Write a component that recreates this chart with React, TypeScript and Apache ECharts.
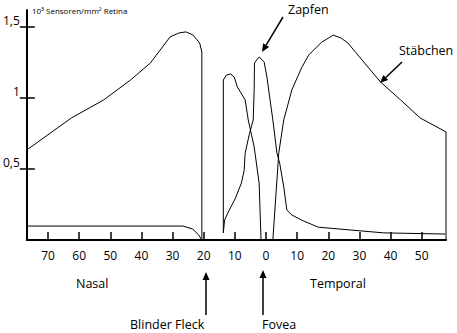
import React, { useEffect, useRef } from "react";
import * as echarts from "echarts";

// x: eccentricity (negative = nasal, positive = temporal), y: 10^5 sensors / mm^2
const xTickValues = [-70, -60, -50, -40, -30, -20, -10, 0, 10, 20, 30, 40, 50];
const yTickValues = [0.5, 1, 1.5];
const yTickLabels = ["0,5", "1", "1,5"];

const rodsX = [
  -76.8, -62.5, -52.1, -43.5, -37.1, -30.8, -27.9, -25.7, -23.5, -21.3, -20.6, -20.6,
  -17,
  -13.7, -13.7, -12.7, -11.4, -10.2, -9.2, -6.7, -5.7, -3.8, -2.2, -1.6,
  0,
  2.2, 4.1, 5.7, 8.3, 11.4, 13.7, 17.8, 21.6, 24.1, 26.3, 32.7, 36.8, 43.2, 49.5, 57.8, 57.8,
];
const rodsY: (number | string)[] = [
  0.633, 0.858, 0.985, 1.125, 1.245, 1.428, 1.456, 1.463, 1.442, 1.385, 1.322, 0,
  "-",
  0.05, 1.125, 1.16, 1.167, 1.146, 1.076, 0.985, 0.844, 0.654, 0.4, 0,
  "-",
  0, 0.612, 0.844, 1.055, 1.21, 1.3, 1.39, 1.44, 1.42, 1.385, 1.217, 1.11, 0.985, 0.858, 0.76, 0,
];

const conesX = [
  -76.8, -26.7, -23.5, -21.6, -20.6,
  -17,
  -13.7, -13.3, -12.1, -9.8, -7.9, -7.0, -6.7, -5.4, -4.1, -3.8, -3.7, -2.2, -0.6, 0.3, 1.3,
  2.2, 3.5, 4.4, 5.7, 6.7, 8.3, 11.4, 16.8, 27.3, 37.8, 57.5,
];
const conesY: (number | string)[] = [
  0.098, 0.098, 0.077, 0.035, 0,
  "-",
  0.05, 0.14, 0.197, 0.295, 0.4, 0.49, 0.61, 0.74, 0.844, 1.055, 1.245, 1.287, 1.252, 1.146, 0.985,
  0.844, 0.612, 0.54, 0.373, 0.21, 0.176, 0.14, 0.09, 0.07, 0.05, 0.042,
];

const FONT = "Open Sans";

function arrow(x1: number, y1: number, x2: number, y2: number) {
  const dx = x2 - x1, dy = y2 - y1;
  const len = Math.hypot(dx, dy);
  const ux = dx / len, uy = dy / len;
  const h = 8, w = 3.5;
  const bx = x2 - ux * h, by = y2 - uy * h;
  return [
    { type: "line", shape: { x1, y1, x2: bx, y2: by }, style: { stroke: "#000", lineWidth: 1.5 } },
    {
      type: "polygon",
      shape: { points: [[x2, y2], [bx - uy * w, by + ux * w], [bx + uy * w, by - ux * w]] },
      style: { fill: "#000" },
    },
  ];
}

function txt(text: string, x: number, y: number, size = 12.5, align = "left") {
  return {
    type: "text",
    x,
    y,
    style: { text, fontFamily: FONT, fontSize: size, fill: "#000", align, verticalAlign: "middle" },
  };
}

export default function App() {
  const ref = useRef<HTMLDivElement>(null);
  useEffect(() => {
    document.body.style.margin = "0";
    const chart = echarts.init(ref.current!, null, { renderer: "svg" });
    const xMin = -76.8, xMax = 57.8, yMax = 1.617;
    chart.setOption({
      animation: false,
      backgroundColor: "#fff",
      grid: { left: 22, right: 11, top: 10, bottom: 93 },
      xAxis: {
        type: "value",
        min: xMin,
        max: xMax,
        axisLine: { show: true, onZero: false, lineStyle: { color: "#000", width: 2 } },
        axisTick: { show: true, inside: true, length: 8, customValues: xTickValues, lineStyle: { color: "#000", width: 1.5 } },
        axisLabel: {
          customValues: xTickValues,
          formatter: (v: number) => String(Math.abs(Math.round(v))),
          color: "#000",
          fontFamily: FONT,
          fontSize: 12,
          margin: 9,
        },
        splitLine: { show: false },
      },
      yAxis: [
        {
          type: "value",
          min: 0,
          max: yMax,
          position: "left",
          offset: 0,
          axisLine: { show: true, onZero: false, lineStyle: { color: "#000", width: 2 } },
          axisTick: { show: true, inside: false, length: 7, customValues: yTickValues, lineStyle: { color: "#000", width: 1.5 } },
          axisLabel: {
            customValues: yTickValues,
            formatter: (v: number) => yTickLabels[yTickValues.indexOf(v)] ?? String(v),
            color: "#000",
            fontFamily: FONT,
            fontSize: 12,
            margin: 7,
            verticalAlign: "bottom",
          },
          splitLine: { show: false },
        },
        {
          type: "value",
          min: 0,
          max: yMax,
          position: "left",
          offset: 0,
          axisLine: { show: false, onZero: false },
          axisTick: { show: true, inside: true, length: 8, customValues: yTickValues, lineStyle: { color: "#000", width: 1.5 } },
          axisLabel: { show: false },
          splitLine: { show: false },
        },
      ],
      series: [
        {
          name: "Stäbchen",
          type: "line",
          yAxisIndex: 0,
          symbol: "none",
          connectNulls: false,
          lineStyle: { color: "#000", width: 1 },
          data: rodsX.map((x, i) => [x, rodsY[i]]),
        },
        {
          name: "Zapfen",
          type: "line",
          yAxisIndex: 0,
          symbol: "none",
          connectNulls: false,
          lineStyle: { color: "#000", width: 1 },
          data: conesX.map((x, i) => [x, conesY[i]]),
        },
      ],
      graphic: [
        {
          type: "text",
          x: 32,
          y: 10,
          style: {
            text: "10⁵ Sensoren/mm² Retina",
            fontFamily: FONT,
            fontSize: 8,
            fill: "#000",
            verticalAlign: "middle",
          },
        },
        txt("Zapfen", 288, 9),
        ...arrow(283, 17, 262, 52),
        txt("Stäbchen", 399, 50),
        ...arrow(402, 62, 380, 83),
        txt("Nasal", 76, 283),
        txt("Temporal", 310, 283),
        ...arrow(206, 315, 206, 272),
        ...arrow(263, 315, 263, 270),
        txt("Blinder Fleck", 130, 324),
        txt("Fovea", 262, 324),
      ],
    });
    return () => chart.dispose();
  }, []);
  return <div ref={ref} style={{ width: 457, height: 333 }} />;
}
